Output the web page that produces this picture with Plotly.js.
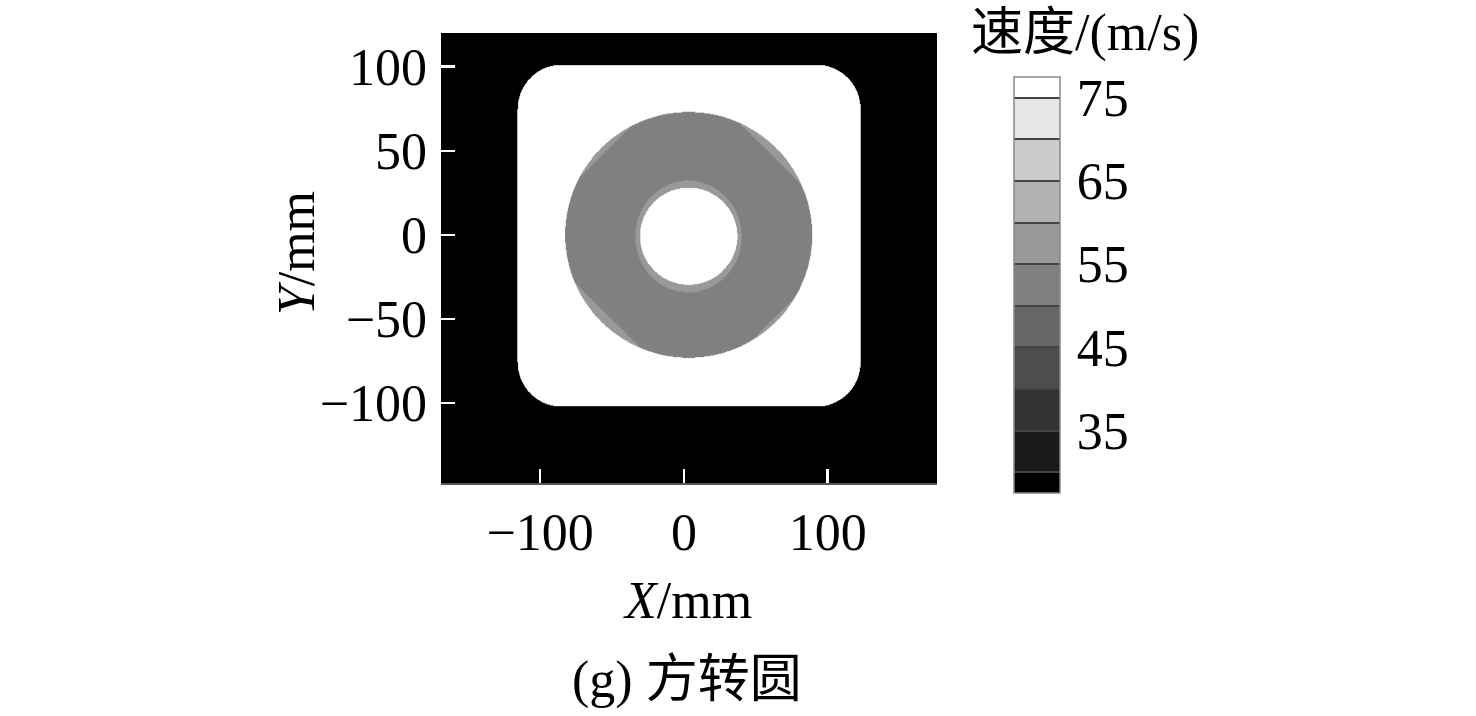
<!DOCTYPE html>
<html>
<head>
<meta charset="utf-8">
<script src="https://cdn.plot.ly/plotly-3.0.1.min.js"></script>
<style>html,body{margin:0;padding:0;background:#fff;}#chart{width:1476px;height:716px;}</style>
</head>
<body>
<div id="chart"></div>
<script>
// ---- values (mm, m/s) ----
const xRange = [-169, 176];
const yRange = [-147.5, 120];
const xTicks = [-100, 0, 100];
const yTicks = [-100, -50, 0, 50, 100];
const cbTicks = [35, 45, 55, 65, 75];
const levels = [30, 75, 5];            // contour start, end, step
// grey of each colour band, from the lowest band (<30) to the highest (>75)
const bandGrays = [0, 26, 51, 77, 102, 128, 153, 179, 204, 230, 255];
// speeds of each zone
const speedBackground = 27.5;
const speedSquare = 77.5;
const speedAnnulus = 52.5;
const speedCornerPatch = 57.5;
const speedInnerRing = 57.5;
const speedHole = 77.5;
// rounded square outlet: [xmin, xmax, ymin, ymax], corner radii [rx, ry]
const squareBox = [-115.5, 122.7, -102, 101];
const squareCorner = [30.5, 26.2];
// ellipses: [cx, cy, rx, ry]
const annulusOuter = [3.3, 0, 86.0, 73.1];
const innerRing = [3.1, -1.0, 37.0, 33.2];
const innerHole = [3.3, -0.8, 33.8, 28.8];
// lighter corner patches of the annulus (fraction of outer radius along diagonals): TR, TL, BL, BR
const patchDepth = [0.933, 0.955, 0.925, 0.968];
const gridStep = 0.5;

// ---- build grid ----
const xs = [], ys = [];
for (let x = xRange[0]; x <= xRange[1] + 1e-9; x += gridStep) xs.push(+x.toFixed(3));
for (let y = yRange[0]; y <= yRange[1] + 1e-9; y += gridStep) ys.push(+y.toFixed(3));

function inEllipse(e, x, y) {
  const dx = (x - e[0]) / e[2], dy = (y - e[1]) / e[3];
  return dx * dx + dy * dy <= 1;
}
function inRoundedSquare(x, y) {
  const [x0, x1, y0, y1] = squareBox, [rx, ry] = squareCorner;
  if (x < x0 || x > x1 || y < y0 || y > y1) return false;
  const cx = Math.min(Math.max(x, x0 + rx), x1 - rx);
  const cy = Math.min(Math.max(y, y0 + ry), y1 - ry);
  const dx = (x - cx) / rx, dy = (y - cy) / ry;
  return dx * dx + dy * dy <= 1;
}
function speedAt(x, y) {
  if (!inRoundedSquare(x, y)) return speedBackground;
  if (inEllipse(innerHole, x, y)) return speedHole;
  if (inEllipse(innerRing, x, y)) return speedInnerRing;
  if (inEllipse(annulusOuter, x, y)) {
    const nx = (x - annulusOuter[0]) / annulusOuter[2];
    const ny = (y - annulusOuter[1]) / annulusOuter[3];
    const q = nx >= 0 ? (ny >= 0 ? 0 : 3) : (ny >= 0 ? 1 : 2);
    if ((Math.abs(nx) + Math.abs(ny)) / Math.SQRT2 > patchDepth[q]) return speedCornerPatch;
    return speedAnnulus;
  }
  return speedSquare;
}
const z = ys.map(y => xs.map(x => speedAt(x, y)));

// stepped grey scale: band k (mid-value at 0.05 + 0.1k of the scale) gets bandGrays[k]
function g(v) { return 'rgb(' + v + ',' + v + ',' + v + ')'; }
const grayScale = [];
for (let k = 0; k < 10; k++) {
  const hi = k === 9 ? 0.99 : 0.1 * (k + 1);
  grayScale.push([+(0.1 * k).toFixed(3), g(bandGrays[k])]);
  grayScale.push([+(hi - 0.001).toFixed(3), g(bandGrays[k])]);
}
grayScale.push([0.99, g(bandGrays[10])]);
grayScale.push([1, g(bandGrays[10])]);

const FONT = 'Liberation Serif, Times New Roman, Noto Sans CJK SC, serif';
const FS = 52;

const base = {
  type: 'contour', x: xs, y: ys, z: z,
  autocontour: false,
  contours: {start: levels[0], end: levels[1], size: levels[2], coloring: 'fill'},
  colorscale: grayScale,
  hoverinfo: 'skip'
};
const traceMain = Object.assign({}, base, {
  contours: Object.assign({}, base.contours, {showlines: false}),
  line: {width: 0, smoothing: 0},
  showscale: false
});
const traceScale = Object.assign({}, base, {
  contours: Object.assign({}, base.contours, {showlines: true}),
  line: {width: 2, color: '#444444', smoothing: 0},
  opacity: 0,
  showscale: true,
  colorbar: {
    x: 1.155, xanchor: 'left', xref: 'paper',
    y: 0.44, yanchor: 'middle',
    thickness: 46, thicknessmode: 'pixels',
    len: 416, lenmode: 'pixels',
    xpad: 0, ypad: 0,
    outlinecolor: '#888888', outlinewidth: 1.5,
    tickmode: 'array', tickvals: cbTicks, ticktext: cbTicks.map(String),
    ticks: 'outside', ticklen: 6, tickcolor: 'rgba(0,0,0,0)',
    tickfont: {family: FONT, size: FS, color: '#000'},
    title: {text: ''}
  }
});

const layout = {
  width: 1476, height: 716,
  margin: {l: 441, r: 539, t: 33, b: 233},
  paper_bgcolor: '#ffffff', plot_bgcolor: '#000000',
  showlegend: false,
  font: {family: FONT, size: FS, color: '#000'},
  xaxis: {
    range: xRange, tickmode: 'array', tickvals: xTicks,
    ticks: 'inside', ticklen: 14, tickwidth: 2.5, tickcolor: '#ffffff',
    showline: true, linecolor: '#555555', linewidth: 2,
    showgrid: false, zeroline: false,
    tickfont: {family: FONT, size: FS, color: '#000'},
    ticklabelstandoff: 3
  },
  yaxis: {
    range: yRange, tickmode: 'array', tickvals: yTicks,
    ticks: 'inside', ticklen: 14, tickwidth: 2.5, tickcolor: '#ffffff',
    showline: false, showgrid: false, zeroline: false,
    tickfont: {family: FONT, size: FS, color: '#000'},
    ticklabelstandoff: 13
  },
  yaxis2: {
    overlaying: 'y', side: 'right', range: yRange,
    showline: true, linecolor: '#555555', linewidth: 2,
    showticklabels: false, ticks: '', showgrid: false, zeroline: false
  },
  annotations: [
    {text: '<i>Y</i>/mm', xref: 'paper', yref: 'paper', x: -0.292, y: 0.511, textangle: -90,
     showarrow: false, xanchor: 'center', yanchor: 'middle', font: {family: FONT, size: FS, color: '#000'}},
    {text: '<i>X</i>/mm', xref: 'paper', yref: 'paper', x: 0.496, y: -0.262,
     showarrow: false, xanchor: 'center', yanchor: 'middle', font: {family: FONT, size: FS, color: '#000'}},
    {text: '(g) 方转圆', xref: 'paper', yref: 'paper', x: 0.496, y: -0.438,
     showarrow: false, xanchor: 'center', yanchor: 'middle', font: {family: FONT, size: FS, color: '#000'}},
    {text: '速度/(m/s)', xref: 'paper', yref: 'paper', x: 1.298, y: 1.0,
     showarrow: false, xanchor: 'center', yanchor: 'middle', font: {family: FONT, size: FS, color: '#000'}}
  ]
};

Plotly.newPlot('chart', [traceMain, traceScale], layout, {staticPlot: true, displayModeBar: false});
</script>
</body>
</html>
